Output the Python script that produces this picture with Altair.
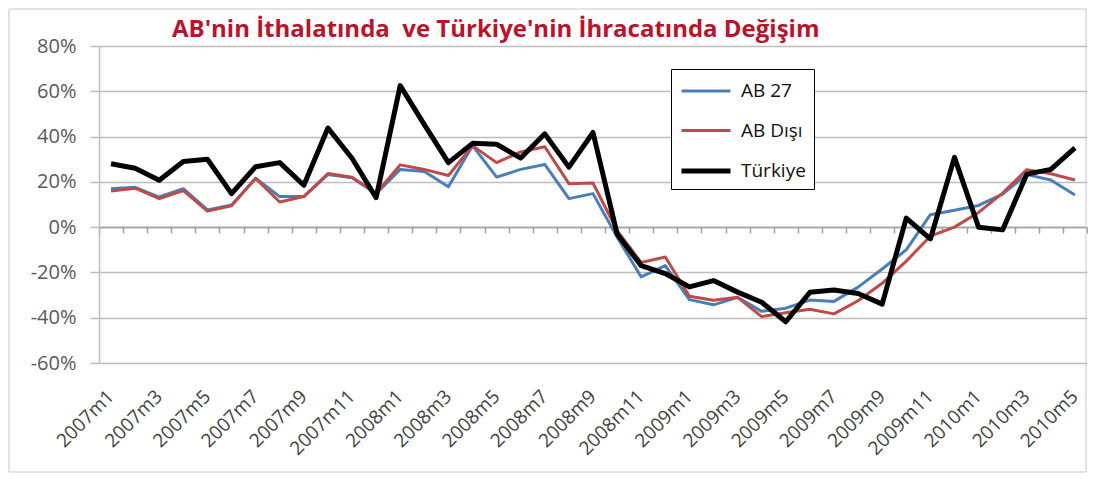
import altair as alt
import pandas as pd

months = [f"{y}m{m}" for y in (2007, 2008, 2009) for m in range(1, 13)] + [f"2010m{m}" for m in range(1, 6)]

series_names = ["AB 27", "AB Dışı", "Türkiye"]
series_colors = ["#4A7EBB", "#BE4B48", "#000000"]
series_widths = [3, 3, 5]

ab27 = [17, 17.6, 13.3, 17, 7.6, 9.8, 21.6, 13.5, 13.5, 23.2,
        21.8, 14.8, 25.5, 24.6, 17.8, 36, 22.1, 25.5, 27.7, 12.6,
        14.8, -4.4, -22, -17, -32, -34.3, -31, -37.2, -35.8, -32.2,
        -32.8, -26.5, -18.5, -10, 5.5, 7.5, 9.6, 14.6, 23.2, 20.8,
        14.2]
ab_disi = [16, 17.2, 12.6, 16.1, 7.1, 9.4, 21.5, 11.1, 13.5, 23.7,
           22, 15, 27.5, 25.5, 22.8, 36, 28.5, 33.2, 35.5, 19.2,
           19.5, -1.5, -15.6, -13.2, -30.5, -32.3, -31, -39.5, -37.8, -36.3,
           -38.3, -32.5, -24.8, -15, -4, 0, 6.5, 15, 25.4, 23.6,
           20.8]
turkiye = [28, 26, 20.7, 29, 30, 14.8, 26.7, 28.5, 18.5, 43.8,
           30.4, 13, 62.5, 45.3, 28.5, 37, 36.6, 30.5, 41.2, 26.5,
           41.8, -3, -17, -20.5, -26.4, -23.6, -28.7, -33.2, -41.8, -28.8,
           -27.8, -29.3, -34, 4, -5.2, 30.8, 0, -1.2, 23.4, 25.5,
           35]

y_ticks = [-60, -40, -20, 0, 20, 40, 60, 80]
title_text = "AB'nin İthalatında \u00a0ve Türkiye'nin İhracatında Değişim"

rows = []
for name, vals in zip(series_names, [ab27, ab_disi, turkiye]):
    for i, (m, v) in enumerate(zip(months, vals)):
        rows.append({"month": m, "value": v, "series": name, "order": series_names.index(name)})
df = pd.DataFrame(rows)

W, H = 988, 317
grey = "#BDBDBD"

x_scale = alt.Scale(type="band", paddingInner=0, paddingOuter=0)
y_scale = alt.Scale(domain=[-60, 80], nice=False)

legend_kw = dict(title=None, orient="none", legendX=572, legendY=23,
                 symbolType="M-2,0L2,0", symbolSize=600, symbolOffset=12,
                 labelFont="Open Sans", labelFontSize=19, labelColor="#111111",
                 strokeColor="#000000", fillColor="#FFFFFF",
                 padding=8, rowPadding=15.5, labelOffset=20)

lines = alt.Chart(df).mark_line(strokeJoin="round").encode(
    x=alt.X("month:N", sort=months, scale=x_scale,
            axis=alt.Axis(title=None, orient="bottom", labelAngle=-45, labelAlign="right", labelBaseline="middle",
                          labelFont="Open Sans", labelFontSize=19, labelColor="#404040",
                          ticks=False, domain=False, grid=False, labelPadding=30,
                          labelOverlap=False, labelBound=False,
                          labelExpr="parseInt(split(datum.value, 'm')[1]) % 2 == 1 ? datum.value : ''")),
    y=alt.Y("value:Q", scale=y_scale,
            axis=alt.Axis(title=None, values=y_ticks, labelExpr="datum.value + '%'",
                          labelFont="Open Sans", labelFontSize=20, labelColor="#595959",
                          grid=True, gridColor=grey, gridWidth=1.5,
                          domain=True, domainColor=grey, domainWidth=1.5,
                          ticks=True, tickColor=grey, tickSize=9, tickWidth=1.5,
                          labelPadding=14)),
    color=alt.Color("series:N", sort=series_names,
                    scale=alt.Scale(domain=series_names, range=series_colors),
                    legend=alt.Legend(**legend_kw)),
    strokeWidth=alt.StrokeWidth("series:O", sort=series_names,
                                scale=alt.Scale(type="ordinal", domain=series_names, range=series_widths),
                                legend=alt.Legend(**legend_kw)),
    order=alt.Order("order:Q"),
)

zero_axis = alt.Chart(df).mark_tick(opacity=0).encode(
    x=alt.X("month:N", sort=months, scale=x_scale,
            axis=alt.Axis(title=None, orient="bottom", offset=-136, labels=False,
                          ticks=True, tickBand="extent", tickSize=6, tickColor="#A0A0A0", tickWidth=1.5,
                          domain=True, domainColor="#A0A0A0", domainWidth=1.5, grid=False)),
)

frame = alt.Chart(pd.DataFrame({"f": [0]})).mark_rect(fill=None, stroke="#C8C8C8", strokeWidth=1).encode(
    x=alt.value(-90), x2=alt.value(987), y=alt.value(-37), y2=alt.value(426)
)

chart = alt.layer(frame, zero_axis, lines).resolve_axis(x="independent").properties(
    width=W, height=H,
    autosize=alt.AutoSizeParams(type="none"),
    padding={"left": 91, "top": 38, "right": 1, "bottom": 110},
    title=alt.TitleParams(text=title_text, font="Open Sans", fontSize=24, fontWeight="bold",
                          color="#B8142A", anchor="start", dx=73, dy=37, offset=4, frame="group"),
).configure_view(stroke=None)

chart.save("out.html", embed_options={"renderer": "svg", "actions": False})
